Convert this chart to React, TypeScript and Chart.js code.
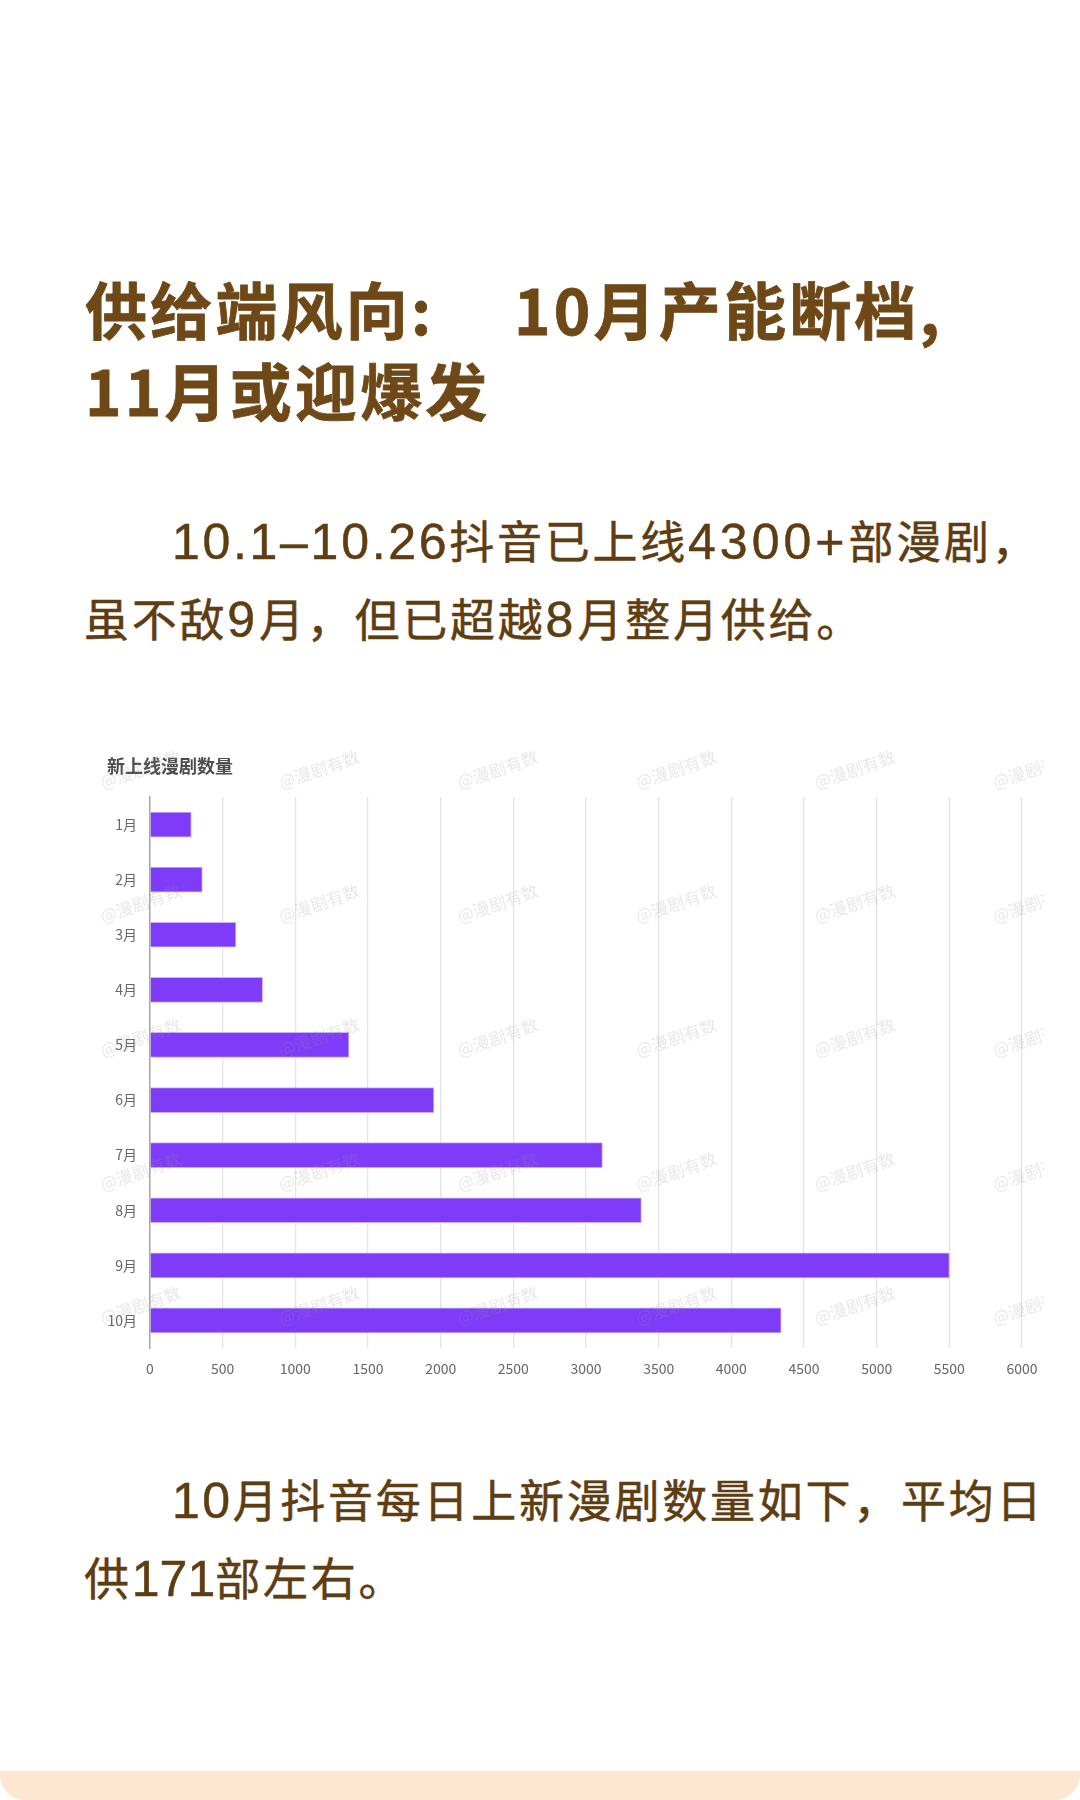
import React, { useEffect, useRef } from "react";
import { Chart, registerables } from "chart.js";

Chart.register(...registerables);

const months = ["1月", "2月", "3月", "4月", "5月", "6月", "7月", "8月", "9月", "10月"];
const newSeries = [284, 360, 591, 775, 1369, 1953, 3113, 3381, 5500, 4343];
const chartTitle = "新上线漫剧数量";
const watermarkText = "@漫剧有数";
const headingParts = ["供给端风向:", "10月产能断档,", "11月或迎爆发"];
const para1 = ["10.1\u201310.26抖音已上线4300+部漫剧\uFF0C", "虽不敌9月\uFF0C但已超越8月整月供给。"];
const para2 = ["10月抖音每日上新漫剧数量如下\uFF0C平均日", "供171部左右。"];

const CJK = '"Noto Sans CJK SC", sans-serif';
const LATIN = '"Liberation Sans", sans-serif';

const watermark = {
  id: "watermark",
  afterDraw(chart: any) {
    const { ctx } = chart;
    ctx.save();
    ctx.font = `17px ${CJK}`;
    ctx.fillStyle = "rgba(150,150,150,0.22)";
    ctx.textAlign = "left";
    ctx.textBaseline = "middle";
    for (let r = 0; r < 5; r++) {
      for (let c = 0; c < 6; c++) {
        ctx.save();
        ctx.translate(17 + c * 178.5, 38 + r * 134);
        ctx.rotate(-0.33);
        ctx.fillText(watermarkText, 0, 0);
        ctx.restore();
      }
    }
    ctx.restore();
  },
};

function Heading({ text, left, top }: any) {
  return (
    <div
      style={{
        position: "absolute",
        left,
        top,
        whiteSpace: "pre",
        fontSize: 62,
        lineHeight: "82px",
        color: "#6f4818",
        fontWeight: 700,
        letterSpacing: 3.2,
        fontFamily: CJK,
        WebkitTextStroke: "0.8px #6f4818",
      }}
    >
      {text}
    </div>
  );
}

function digitSpacing(p: string) {
  if (p.includes("\u2013")) return 2.7;
  if (p === "171") return 0;
  if (p === "10") return 2.4;
  return 4;
}

function BodyLine({ text, left, top }: any) {
  const parts = text.split(/([0-9.+\u2013]+)/).filter((p: string) => p);
  return (
    <div
      style={{
        position: "absolute",
        left,
        top,
        whiteSpace: "pre",
        fontSize: 45,
        lineHeight: "65px",
        color: "#5f3d12",
        letterSpacing: 2.75,
        fontFamily: CJK,
        WebkitTextStroke: "0.5px #5f3d12",
      }}
    >
      {parts.map((p: string, i: number) =>
        /^[0-9.+\u2013]+$/.test(p) ? (
          <span key={i} style={{ fontFamily: LATIN, fontSize: 50, letterSpacing: digitSpacing(p) }}>
            {p}
          </span>
        ) : (
          <span key={i}>{p}</span>
        ),
      )}
    </div>
  );
}

export default function App() {
  const ref = useRef<HTMLCanvasElement>(null);
  useEffect(() => {
    const chart = new Chart(ref.current!, {
      type: "bar",
      data: {
        labels: months,
        datasets: [
          {
            data: newSeries,
            backgroundColor: "#7f3cf8",
            borderColor: "#cdb0fb",
            borderWidth: 1,
            barThickness: 25,
          },
        ],
      },
      options: {
        indexAxis: "y",
        responsive: false,
        animation: false,
        layout: { padding: { left: 23, right: 0, top: 0, bottom: 0 } },
        plugins: {
          legend: { display: false },
          tooltip: { enabled: false },
          title: {
            display: true,
            text: chartTitle,
            align: "start",
            color: "#4d4d4d",
            font: { family: CJK, size: 18, weight: "bold", lineHeight: 1.2 },
            padding: { top: 10, bottom: 20.4 },
          },
        },
        scales: {
          x: {
            type: "linear",
            min: 0,
            max: 6000,
            afterFit: (s: any) => {
              s.height = 52;
              s.paddingRight = 22;
              s.paddingLeft = 0;
            },
            ticks: {
              stepSize: 500,
              autoSkip: false,
              maxRotation: 0,
              padding: 12,
              color: "#666",
              font: { family: CJK, size: 14 },
              callback: (v: any) => String(v),
            },
            grid: { color: "#e4e4e6", lineWidth: 1.3, drawTicks: false },
            border: { display: false },
          },
          y: {
            afterFit: (s: any) => {
              s.width = 43;
            },
            ticks: { padding: 13, color: "#666", font: { family: CJK, size: 14 } },
            grid: { display: false, drawTicks: false },
            border: { color: "#a8a8a8", width: 1.5 },
          },
        },
      } as any,
      plugins: [watermark],
    });
    return () => chart.destroy();
  }, []);

  return (
    <div style={{ position: "absolute", left: 0, top: 0, width: 1080, height: 1800, background: "#fff", overflow: "hidden" }}>
      <Heading text={headingParts[0]} left={85} top={267} />
      <Heading text={headingParts[1]} left={514} top={267} />
      <Heading text={headingParts[2]} left={85} top={348} />
      <BodyLine text={para1[0]} left={172} top={507} />
      <BodyLine text={para1[1]} left={84} top={585} />
      <BodyLine text={para2[0]} left={172} top={1466} />
      <BodyLine text={para2[1]} left={84} top={1544} />
      <canvas ref={ref} width={960} height={655} style={{ position: "absolute", left: 84, top: 745, width: 960, height: 655 }} />
      <div style={{ position: "absolute", left: 0, top: 1771, width: 1080, height: 29, background: "#fde7d0", borderRadius: "0 0 25px 25px" }} />
    </div>
  );
}
